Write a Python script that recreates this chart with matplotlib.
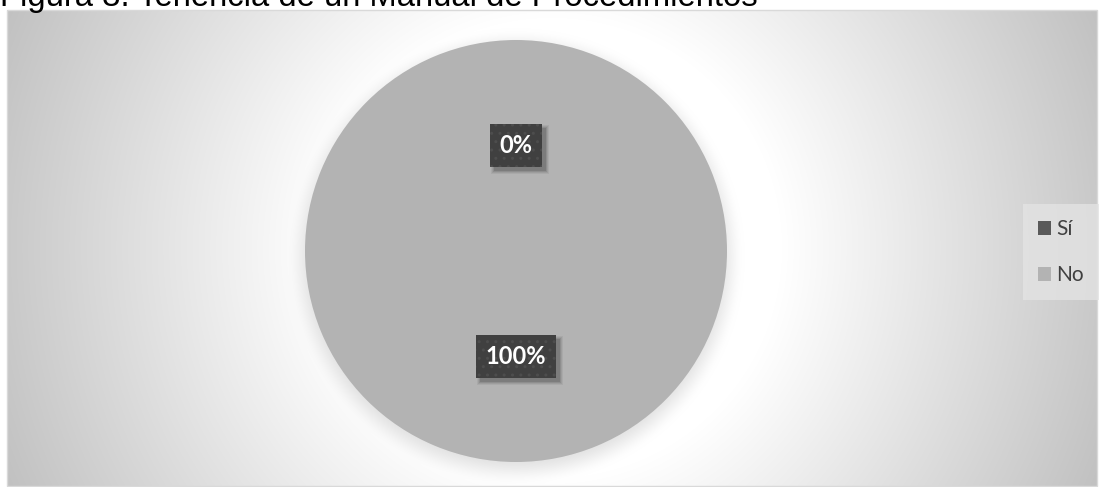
import numpy as np
import matplotlib
matplotlib.use('Agg')
import matplotlib.pyplot as plt
from matplotlib.patches import Rectangle, Patch

# chart data
categories = ['Sí', 'No']
values = [0, 100]
slice_colors = ['#595959', '#b3b3b3']
title = 'Figura 3. Tenencia de un Manual de Procedimientos'

W, H = 1102, 487
DPI = 100

fig = plt.figure(figsize=(W / DPI, H / DPI), dpi=DPI)
fig.patch.set_facecolor('white')

# chart area (pixels, measured from top-left)
x0, x1, y0, y1 = 7, 1097, 10, 486
pie_cx, pie_cy, pie_r = 516, 251, 211


def px_rect(left, top, right, bottom):
    return [left / W, 1 - bottom / H, (right - left) / W, (bottom - top) / H]


# radial grey-to-white background with a soft shadow under the pie
bg_ax = fig.add_axes(px_rect(x0, y0, x1, y1))
xs = np.arange(x0, x1) + 0.5
ys = np.arange(y0, y1) + 0.5
xx, yy = np.meshgrid(xs, ys)
cx, cy = (x0 + x1) / 2, (y0 + y1) / 2
d = np.hypot(xx - cx, yy - cy)
shade = 255 - 63 * np.clip((d - 230) / 370, 0, 1)
ds = np.hypot(xx - pie_cx, yy - (pie_cy + 6))
t = np.clip((ds - (pie_r - 12)) / 30, 0, 1)
t = t * t * (3 - 2 * t)
shade = shade * (1 - 0.12 * (1 - t))
img = np.dstack([shade / 255] * 3)
bg_ax.imshow(img, extent=(0, 1, 0, 1), aspect='auto', origin='upper', interpolation='bilinear')
bg_ax.set_xlim(0, 1)
bg_ax.set_ylim(0, 1)
bg_ax.axis('off')

fig.patches.append(Rectangle((x0 / W, 1 - y1 / H), (x1 - x0) / W, (y1 - y0) / H,
                             transform=fig.transFigure, fill=False,
                             edgecolor='#d9d9d9', linewidth=1))

# pie
ax = fig.add_axes(px_rect(pie_cx - pie_r, pie_cy - pie_r, pie_cx + pie_r, pie_cy + pie_r))
wedges, texts, autotexts = ax.pie(values, colors=slice_colors, startangle=90,
                                  counterclock=False, autopct='%1.0f%%', pctdistance=0.5,
                                  wedgeprops=dict(linewidth=0))
ax.set_xlim(-1, 1)
ax.set_ylim(-1, 1)
ax.axis('off')

# percentage labels in dark dotted boxes
for at in autotexts:
    at.set(fontsize=17, fontweight='bold', family='Lato', color='white', zorder=5)
    at.set_bbox(dict(boxstyle='square,pad=0.42', facecolor='#404040',
                     edgecolor='#4d4d4d', linewidth=0, hatch='..'))

# soft drop shadow under each label box, sized from the rendered box
fig.canvas.draw()
renderer = fig.canvas.get_renderer()
for at in autotexts:
    bb = at.get_bbox_patch().get_window_extent(renderer)
    for grow, a in [(3, 0.05), (2, 0.07), (1, 0.09), (0, 0.12)]:
        ax.add_patch(Rectangle((bb.x0 + 4 - grow, bb.y0 - 4 - grow),
                               bb.width + 2 * grow, bb.height + 2 * grow,
                               transform=None, facecolor='black', edgecolor='none',
                               alpha=a, zorder=4))

# legend
handles = [Patch(facecolor=c, edgecolor='none') for c in slice_colors]
leg = fig.legend(handles, categories, loc='center left',
                 bbox_to_anchor=(1023 / W, 1 - 252 / H),
                 frameon=True, fancybox=False, facecolor='#e3e3e3',
                 edgecolor='none', framealpha=0.8,
                 prop=dict(family='Lato', size=15), labelcolor='#404040',
                 handlelength=0.65, handleheight=0.65, handletextpad=0.25,
                 labelspacing=1.25, borderpad=0.7, borderaxespad=0)

# title, partially clipped by the top edge
fig.text(0.0, 1 - 6 / H, title, ha='left', va='baseline',
         family='Liberation Sans', fontsize=23.6, color='black')

fig.savefig('out.png', dpi=DPI)
